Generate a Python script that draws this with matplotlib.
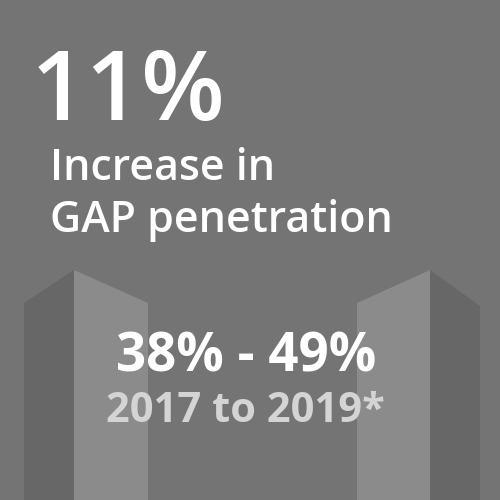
import matplotlib.pyplot as plt
from matplotlib.patches import Polygon

plt.rcParams['font.family'] = ['Open Sans', 'DejaVu Sans']

headline = "11%"
subtitle = ["Increase in", "GAP penetration"]
range_text = "38% - 49%"
period_text = "2017 to 2019*"

bg = "#737473"
dark = "#666766"
light = "#8a8b8a"

fig = plt.figure(figsize=(5, 5), dpi=100)
fig.patch.set_facecolor(bg)
ax = fig.add_axes([0, 0, 1, 1])
ax.set_xlim(0, 500)
ax.set_ylim(500, 0)
ax.axis('off')
ax.set_facecolor(bg)

# decorative buildings
shapes = [
    ([(24, 303), (74, 270), (74, 500), (24, 500)], dark),
    ([(74, 270), (148, 303), (148, 500), (74, 500)], light),
    ([(357, 303), (430, 270), (430, 500), (357, 500)], light),
    ([(430, 270), (480, 306), (480, 500), (430, 500)], dark),
]
for pts, c in shapes:
    ax.add_patch(Polygon(pts, closed=True, facecolor=c, edgecolor='none'))

ax.text(31, 120, headline, fontsize=70, fontweight='semibold', color='white', va='baseline')
ax.text(50, 180, subtitle[0], fontsize=31, fontweight='semibold', color='white', va='baseline')
ax.text(50, 232, subtitle[1], fontsize=31, fontweight='semibold', color='white', va='baseline')
ax.text(246, 372, range_text, fontsize=38, fontweight='bold', color='white', ha='center', va='baseline')
ax.text(245, 422, period_text, fontsize=30, fontweight='bold', color='#d4d4d4', ha='center', va='baseline')

fig.savefig("out.png", dpi=100, facecolor=bg)
